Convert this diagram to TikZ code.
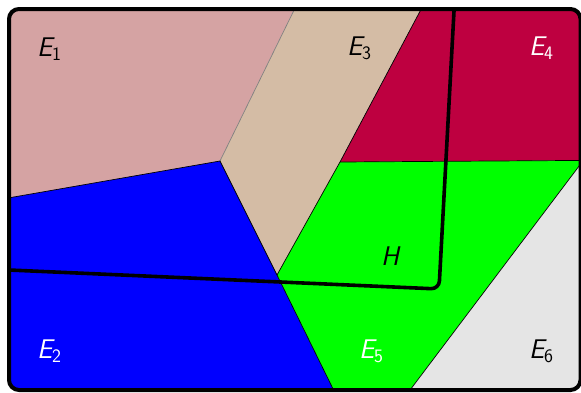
\documentclass[tikz,border=0pt]{standalone}
\usepackage{tikz}
\definecolor{cpink}{RGB}{213,163,163}
\definecolor{ctan}{RGB}{212,188,165}
\definecolor{ccrim}{RGB}{190,0,64}
\definecolor{cgreen}{RGB}{0,255,0}
\definecolor{cblue}{RGB}{0,0,255}
\definecolor{cgray}{RGB}{229,229,229}
\newcommand{\lbl}[2]{{\fontsize{27}{30}\selectfont\sffamily\slshape #1}\raisebox{-4pt}{\fontsize{19}{21}\selectfont\sffamily #2}}
\tikzset{
  region/.style={fill=#1, draw=none},
  border/.style={draw=black, line width=0.7pt},
  softborder/.style={draw=gray, line width=0.7pt},
  frame/.style={draw=black, line width=4pt, rounded corners=10pt},
  hline/.style={draw=black, line width=3.6pt, rounded corners=8pt},
  lab/.style={anchor=base west, inner sep=0pt, outer sep=0pt},
}
\begin{document}
\begin{tikzpicture}[x=1pt,y=-1pt]
\useasboundingbox (0,0) rectangle (581,392);
\begin{scope}
\clip[rounded corners=10pt] (9,9) rectangle (580.5,390);
% regions
\path[region=cpink] (0,0) -- (299,0) -- (220,161) -- (0,199.4) -- cycle;
\path[region=ctan] (299,0) -- (426,0) -- (340,162) -- (277,275) -- (220,161) -- cycle;
\path[region=ccrim] (426,0) -- (600,0) -- (600,160.3) -- (340,162) -- cycle;
\path[region=cblue] (0,199.4) -- (220,161) -- (277,275) -- (338.5,400) -- (0,400) -- cycle;
\path[region=cgreen] (340,162) -- (583.4,160.3) -- (402.5,400) -- (338.5,400) -- (277,275) -- cycle;
\path[region=cgray] (583.4,160.3) -- (600,160.3) -- (600,400) -- (402.5,400) -- cycle;
% boundaries
\coordinate (a) at (220,161);
\coordinate (b) at (277,275);
\coordinate (c) at (340,162);
\coordinate (d) at (583.4,160.3);
\draw[softborder] (299,0) -- (a);
\draw[border] (0,199.4) -- (a) -- (b) -- (338.5,400);
\draw[border] (b) -- (c) -- (426,0);
\draw[border] (c) -- (600,160.3);
\draw[border] (d) -- (402.5,400);
% H
\draw[hline] (454.6,0) -- (439,289) -- (0,269.6);
\end{scope}
\draw[frame] (9,9) rectangle (580.5,390);
% labels
\node[lab] (e1) at (37,56) {\lbl{E}{1}};
\node[lab] (e3) at (347,55) {\lbl{E}{3}};
\node[lab, text=white] (e4) at (529,55) {\lbl{E}{4}};
\node[lab, text=white] (e2) at (37,358) {\lbl{E}{2}};
\node[lab, text=white] (e5) at (359,358) {\lbl{E}{5}};
\node[lab] (e6) at (529,358) {\lbl{E}{6}};
\node[lab] (h) at (381,265) {{\fontsize{27}{30}\selectfont\sffamily\slshape H}};
\end{tikzpicture}
\end{document}
